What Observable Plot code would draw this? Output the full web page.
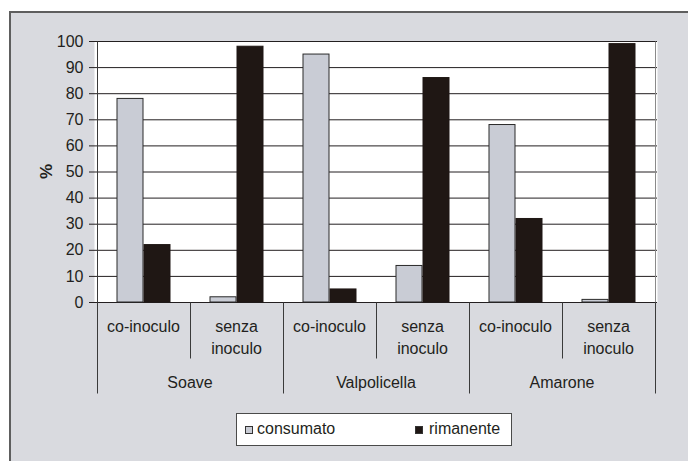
<!DOCTYPE html>
<html>
<head>
<meta charset="utf-8">
<script src="https://cdn.jsdelivr.net/npm/d3@7"></script>
<script src="https://cdn.jsdelivr.net/npm/@observablehq/plot@0.6"></script>
<style>
  html, body { margin: 0; padding: 0; background: #ffffff; }
  #wrap { position: relative; width: 688px; height: 461px; overflow: hidden; font-family: "Liberation Sans", Arial, sans-serif; }
  #panel { position: absolute; left: 9px; top: 11px; width: 700px; height: 470px; background: #d9dadf; border-left: 2px solid #5e5e5e; border-top: 2px solid #5e5e5e; }
  #chart { position: absolute; left: 0; top: 0; }
  #legend { position: absolute; left: 236px; top: 413px; width: 274px; height: 31px; background: #ffffff; border: 1px solid #4a4a4a; font-size: 16px; color: #231f20; }
  #legend .sw { position: absolute; top: 12px; width: 6px; height: 6px; border: 1px solid #333; }
  #legend .lb { position: absolute; top: 6px; line-height: 18px; }
</style>
</head>
<body>
<div id="wrap">
  <div id="panel"></div>
  <div id="chart"></div>
  <div id="legend"></div>
</div>
<script>
// ---- data ----
const wines = ["Soave", "Valpolicella", "Amarone"];
const treatments = ["co-inoculo", "senza inoculo"];
const series = ["consumato", "rimanente"];
const consumato = [78, 2, 95, 14, 68, 1];
const rimanente = [22, 98, 5, 86, 32, 99];
const yTicks = [0, 10, 20, 30, 40, 50, 60, 70, 80, 90, 100];
const yLabel = "%";

const ink = "#231f20";
const colors = {consumato: "#c9ccd5", rimanente: "#1f1714"};

// categories (wine x treatment)
const cats = [];
wines.forEach(w => treatments.forEach(t => cats.push({key: w + "|" + t, wine: w, treatment: t})));
const keys = cats.map(c => c.key);
const rows = [];
cats.forEach((c, i) => {
  rows.push({key: c.key, series: "consumato", value: consumato[i]});
  rows.push({key: c.key, series: "rimanente", value: rimanente[i]});
});

// hierarchical category axis drawn with the plot's own scales
function categoryAxis(index, scales, values, dims) {
  const x = scales.x, y = scales.y;
  const bw = typeof x.bandwidth === "function" ? x.bandwidth() : scales.scales.x.bandwidth;
  const top = Math.round(y(100)) + 0.5;
  const base = Math.round(y(0)) + 0.5;
  const g = d3.create("svg:g")
    .attr("fill", ink)
    .attr("font-family", "Liberation Sans, Arial, sans-serif")
    .attr("font-size", 16)
    .attr("text-anchor", "middle");
  const px = v => Math.round(v) + 0.5;
  // y axis line and right plot edge
  g.append("line").attr("x1", px(x(keys[0]))).attr("x2", px(x(keys[0])))
    .attr("y1", top).attr("y2", base + 91).attr("stroke", "#3a3a3a");
  const right = x(keys[keys.length - 1]) + bw;
  g.append("line").attr("x1", px(right)).attr("x2", px(right))
    .attr("y1", top).attr("y2", base).attr("stroke", "#8a8a8a");
  g.append("line").attr("x1", px(right)).attr("x2", px(right))
    .attr("y1", base).attr("y2", base + 91).attr("stroke", "#3a3a3a");
  // separators
  cats.forEach((c, i) => {
    if (i === 0) return;
    const isGroup = treatments.indexOf(c.treatment) === 0;
    const xx = px(x(c.key));
    g.append("line").attr("x1", xx).attr("x2", xx)
      .attr("y1", base).attr("y2", base + (isGroup ? 91 : 56))
      .attr("stroke", "#3a3a3a");
  });
  // treatment labels
  cats.forEach(c => {
    const cx = x(c.key) + bw / 2;
    const parts = c.treatment.split(" ");
    const t = g.append("text").attr("x", cx).attr("y", base + 29.5);
    parts.forEach((p, j) => {
      t.append("tspan").attr("x", cx).attr("dy", j === 0 ? 0 : 21.5).text(p);
    });
  });
  // wine labels
  wines.forEach(w => {
    const ks = cats.filter(c => c.wine === w).map(c => c.key);
    const cx = (x(ks[0]) + x(ks[ks.length - 1]) + bw) / 2;
    g.append("text").attr("x", cx).attr("y", base + 85.5).text(w);
  });
  // y axis title
  g.append("text")
    .attr("transform", `translate(${x(keys[0]) - 51},${y(50)}) rotate(-90)`)
    .attr("dy", "0.35em")
    .attr("font-weight", "bold")
    .attr("font-size", 17)
    .text(yLabel);
  return g.node();
}

const chart = Plot.plot({
  width: 688,
  height: 400,
  marginLeft: 94,
  marginRight: 31,
  marginTop: 41,
  marginBottom: 98,
  style: {background: "transparent", fontFamily: "Liberation Sans, Arial, sans-serif", fontSize: "16px", color: ink, overflow: "visible"},
  x: {type: "band", domain: keys, padding: 0, axis: null},
  y: {domain: [0, 100], axis: null},
  marks: [
    Plot.frame({fill: "#ffffff", stroke: null}),
    Plot.gridY(yTicks, {stroke: ink, strokeOpacity: 1, strokeWidth: 1}),
    Plot.axisY(yTicks, {tickSize: 5, tickPadding: 6, fontSize: 16, stroke: ink, fill: ink, label: null}),
    Plot.barY(rows.filter(d => d.series === "consumato"), {
      x: "key", y: "value", fill: colors.consumato, stroke: "#2a2a2a", strokeWidth: 1,
      insetLeft: 20, insetRight: 47
    }),
    Plot.barY(rows.filter(d => d.series === "rimanente"), {
      x: "key", y: "value", fill: colors.rimanente, stroke: colors.rimanente, strokeWidth: 1,
      insetLeft: 47, insetRight: 20
    }),
    categoryAxis
  ]
});
document.getElementById("chart").appendChild(chart);

// legend
const legend = document.getElementById("legend");
const swX = [8, 178];
const lbX = [20, 192];
series.forEach((s, i) => {
  const sw = document.createElement("div");
  sw.className = "sw";
  sw.style.left = swX[i] + "px";
  sw.style.background = colors[s];
  legend.appendChild(sw);
  const lb = document.createElement("div");
  lb.className = "lb";
  lb.style.left = lbX[i] + "px";
  lb.textContent = s;
  legend.appendChild(lb);
});
</script>
</body>
</html>
